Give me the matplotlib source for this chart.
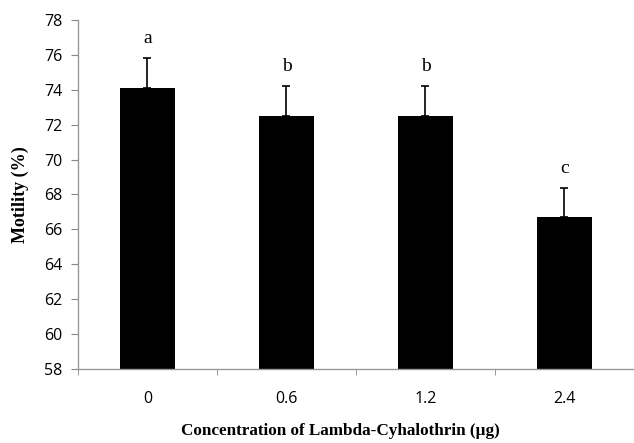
import numpy as np
import matplotlib.pyplot as plt

# data
doses = ['0', '0.6', '1.2', '2.4']
motility = [74.1, 72.5, 72.5, 66.7]
motility_err = [1.7, 1.7, 1.7, 1.65]
letters = ['a', 'b', 'b', 'c']

fig = plt.figure(figsize=(6.34, 4.43), dpi=100)
ax = fig.add_axes([0.123, 0.167, 0.877, 0.788])

x = np.arange(len(doses))
ax.bar(x, np.array(motility) - 58, bottom=58, width=0.4, color='black', zorder=2)
ax.errorbar(x, motility, yerr=[np.zeros(len(x)), motility_err], fmt='none',
            ecolor='black', elinewidth=1.2, capsize=3, capthick=1.2, zorder=3)

for xi, m, e, s in zip(x, motility, motility_err, letters):
    ax.annotate(s, (xi, m + e), xytext=(0, 8), textcoords='offset points',
                ha='center', va='bottom', fontsize=14, family='Liberation Serif')

ax.set_xlim(-0.5, len(doses) - 0.5)
ax.set_ylim(58, 78)
ax.set_yticks(np.arange(58, 79, 2))
ax.set_xticks(x)
ax.set_xticklabels(doses, family='Open Sans', fontsize=11.5)
ax.set_xticks(np.arange(-0.5, len(doses), 1.0), minor=True)
ax.tick_params(axis='x', which='major', length=0, pad=16)
ax.tick_params(axis='x', which='minor', length=4, color='#888888')
ax.tick_params(axis='y', length=5, color='#888888', pad=6, labelsize=11.5)
for lab in ax.get_yticklabels():
    lab.set_family('Open Sans')

for side in ['top', 'right']:
    ax.spines[side].set_visible(False)
for side in ['left', 'bottom']:
    ax.spines[side].set_color('#999999')
    ax.spines[side].set_linewidth(1.0)

fig.text(20 / 634, 1 - 195 / 443, 'Motility (%)', rotation=90,
         ha='center', va='center', family='Liberation Serif', fontweight='bold',
         fontsize=13)
fig.text(340 / 634, 1 - 431 / 443, 'Concentration of Lambda-Cyhalothrin (µg)',
         ha='center', va='center', family='Liberation Serif', fontweight='bold',
         fontsize=12.3)

fig.savefig('out.png', dpi=100)
